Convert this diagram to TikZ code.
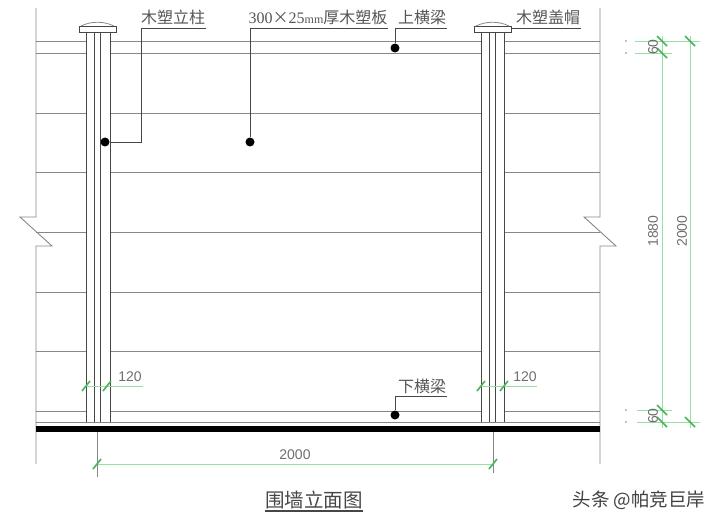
\documentclass[tikz,border=0pt]{standalone}
\usepackage{fontspec}
\setmainfont{Liberation Sans}
\newfontfamily\cjk{Noto Sans CJK SC}
\newfontfamily\numserif{Liberation Serif}
\usetikzlibrary{arrows.meta, positioning, calc}
\definecolor{mygreen}{RGB}{150,225,160}
\definecolor{mytick}{RGB}{70,180,90}
\definecolor{mygray}{RGB}{135,135,135}
\definecolor{mydark}{RGB}{70,70,70}
\definecolor{mytext}{RGB}{85,85,85}
\tikzset{
    wall/.style={draw=mygray, line width=0.9pt},
    postline/.style={draw=mydark, line width=0.8pt},
    leader/.style={draw=mydark, line width=0.6pt},
    dimline/.style={draw=mygreen, line width=0.8pt},
    dimtick/.style={draw=mytick, line width=1.6pt},
    blackdot/.style={circle, fill=black, inner sep=0pt, minimum size=9pt},
    cnlabel/.style={font=\cjk\fontsize{16}{16}\selectfont, text=mytext, inner sep=0pt},
    dimlabel/.style={font=\fontsize{14}{14}\selectfont, text=mytext!85, inner sep=0pt}
}
\newcommand{\dimtick}[1]{\draw[dimtick] ($(#1)+(-4,5)$) -- ($(#1)+(4,-5)$);}
\newcommand{\dimtickv}[1]{\draw[dimtick] ($(#1)+(-5,-5)$) -- ($(#1)+(5,5)$);}
\begin{document}
\begin{tikzpicture}[x=1pt, y=-1pt]
    \useasboundingbox (0,0) rectangle (720,524);

    % wall ends with break marks
    \draw[wall] (36,8) -- (36,217) -- (20,217) -- (52,246) -- (36,246) -- (36,464);
    \draw[wall] (600,8) -- (600,217) -- (584,217) -- (616,246) -- (600,246) -- (600,464);

    % boards and beams
    \foreach \yy in {41,53,113,172,232,292,351,411,422} {
        \draw[wall] (36,\yy) -- (600,\yy);
    }
    \draw[line width=5.5pt, black] (36,429) -- (600,429);

    % posts
    \foreach \xa/\xb/\xc/\xd/\capa/\capb in {86/94/100/110/79/116, 481/489/495/504/474/511} {
        \fill[white] (\xa,32) rectangle (\xd,422);
        \foreach \xx in {\xa,\xb,\xc,\xd} {
            \draw[postline] (\xx,32) -- (\xx,422);
        }
        \draw[postline, fill=white] (\capa,26) rectangle (\capb,32);
        \draw[postline, draw=mygray] (\capa+2,26) .. controls (\capa+12,21) and (\capb-12,21) .. (\capb-2,26);
    }

    % labels with leaders
    \node[cnlabel] (zhu) at (173,17) {木塑立柱};
    \node[cnlabel] (ban) at (318,17) {{\numserif 300}×{\numserif 25\fontsize{12}{12}\selectfont mm}厚木塑板};
    \node[cnlabel] (shang) at (422,17) {上横梁};
    \node[cnlabel] (mao) at (548,17) {木塑盖帽};
    \node[cnlabel] (xia) at (422,386) {下横梁};

    \node[blackdot] (dotzhu) at (105,142) {};
    \node[blackdot] (dotban) at (250,142) {};
    \node[blackdot] (dotshang) at (395,48) {};
    \node[blackdot] (dotxia) at (395,415) {};

    \coordinate (zhuend) at (206,28);
    \coordinate (banend) at (388,28);
    \coordinate (shangend) at (447,28);
    \coordinate (maostart) at (511,28);
    \coordinate (maoend) at (581,28);
    \coordinate (xiaend) at (447,396);

    \draw[leader] (zhuend) -- (141,28) |- (dotzhu);
    \draw[leader] (banend) -| (dotban);
    \draw[leader] (shangend) -| (dotshang);
    \draw[leader] (maostart) -- (maoend);
    \draw[leader] (xiaend) -| (dotxia);

    % post width dimensions
    \coordinate (dimla) at (86,386);
    \coordinate (dimlb) at (107,386);
    \coordinate (dimlc) at (143,386);
    \coordinate (dimra) at (481,386);
    \coordinate (dimrb) at (504,386);
    \coordinate (dimrc) at (537,386);
    \draw[dimline] (dimla) -- (dimlc);
    \draw[dimline] (dimra) -- (dimrc);
    \dimtick{dimla} \dimtick{dimlb} \dimtick{dimra} \dimtick{dimrb}
    \node[dimlabel] (wleft) at (130,377) {120};
    \node[dimlabel] (wright) at (525,377) {120};

    % bottom dimension
    \coordinate (basea) at (97,464);
    \coordinate (baseb) at (493,464);
    \draw[dimline] (basea) -- (baseb);
    \draw[draw=mygray, line width=0.5pt] (97,432) -- (97,477);
    \draw[draw=mygray, line width=0.5pt] (493,432) -- (493,473);
    \dimtick{basea} \dimtick{baseb}
    \node[dimlabel] (baselen) at (295,455) {2000};

    % side dimensions
    \coordinate (sa) at (662,41);
    \coordinate (sb) at (662,53);
    \coordinate (sc) at (662,410);
    \coordinate (sd) at (662,422);
    \coordinate (se) at (690,41);
    \coordinate (sf) at (690,422);
    \draw[dimline] (662,36) -- (662,428);
    \draw[dimline] (690,36) -- (690,428);
    \draw[dimline] (635,41) -- (700,41);
    \draw[dimline] (635,53) -- (672,53);
    \draw[dimline] (637,410) -- (672,410);
    \draw[dimline] (637,422) -- (700,422);
    \foreach \nn in {sa,sb,sc,sd,se,sf} {
        \dimtickv{\nn}
    }
    \foreach \yy in {41,53,410,422} {
        \fill[mygray!50] (625,\yy-1) rectangle (627,\yy+1);
    }
    \node[dimlabel, rotate=90] (htop) at (653,47) {60};
    \node[dimlabel, rotate=90] (hbot) at (653,416) {60};
    \node[dimlabel, rotate=90] (hmid) at (653,231) {1880};
    \node[dimlabel, rotate=90] (hall) at (682,231) {2000};

    % title
    \node[cnlabel, font=\cjk\fontsize{19.5}{19.5}\selectfont, text=mydark] (title) at (314,500) {围墙立面图};
    \coordinate (titlea) at (265,511);
    \coordinate (titleb) at (363,511);
    \draw[draw=mydark, line width=1.5pt] (titlea) -- (titleb);

    % source mark
    \node[cnlabel, font=\cjk\fontsize{18.5}{18.5}\selectfont, text=black!75] (mark) at (639,500) {头条 @帕竞巨岸};
\end{tikzpicture}
\end{document}
